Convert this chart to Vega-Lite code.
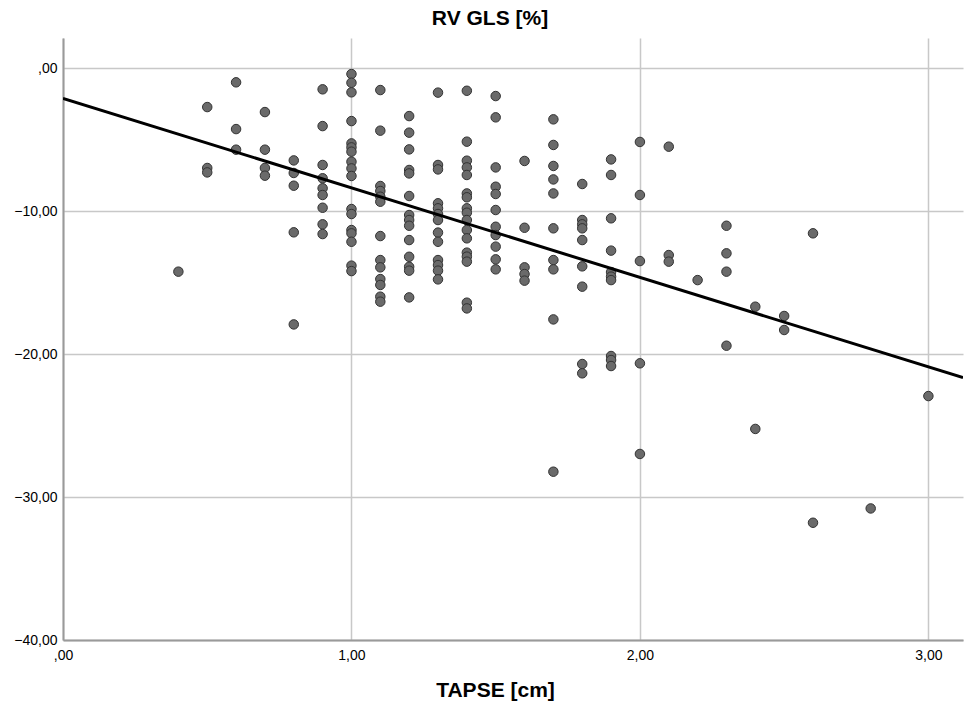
{
  "$schema": "https://vega.github.io/schema/vega-lite/v6.json",
  "width": 900,
  "height": 602,
  "autosize": "none",
  "padding": {"left": 63, "top": 38, "right": 2, "bottom": 75},
  "background": "white",
  "title": {"text": "RV GLS [%]", "font": "Liberation Sans", "fontSize": 21, "fontWeight": "bold", "color": "black", "anchor": "middle", "dx": -23, "offset": 9},
  "config": {
    "view": {"stroke": null},
    "axis": {
      "grid": true, "gridColor": "#c8c8c8", "gridWidth": 1.5,
      "domainColor": "#9a9a9a", "domainWidth": 2,
      "ticks": false,
      "labelFlush": false,
      "labelFont": "Liberation Sans", "labelFontSize": 14, "labelColor": "black",
      "titleFont": "Liberation Sans", "titleFontSize": 21, "titleFontWeight": "bold", "titleColor": "black"
    }
  },
  "datasets": {
    "points": [
      {"tapse":0.4,"gls":-14.24},
      {"tapse":0.5,"gls":-2.73},{"tapse":0.5,"gls":-6.99},{"tapse":0.5,"gls":-7.3},
      {"tapse":0.6,"gls":-1.0},{"tapse":0.6,"gls":-4.27},{"tapse":0.6,"gls":-5.71},
      {"tapse":0.7,"gls":-3.08},{"tapse":0.7,"gls":-5.71},{"tapse":0.7,"gls":-6.99},{"tapse":0.7,"gls":-7.53},
      {"tapse":0.8,"gls":-6.46},{"tapse":0.8,"gls":-7.34},{"tapse":0.8,"gls":-8.23},{"tapse":0.8,"gls":-11.49},{"tapse":0.8,"gls":-17.93},
      {"tapse":0.9,"gls":-1.49},{"tapse":0.9,"gls":-4.06},{"tapse":0.9,"gls":-6.78},{"tapse":0.9,"gls":-7.71},{"tapse":0.9,"gls":-8.41},{"tapse":0.9,"gls":-8.88},{"tapse":0.9,"gls":-9.77},{"tapse":0.9,"gls":-10.93},{"tapse":0.9,"gls":-11.61},
      {"tapse":1.0,"gls":-0.42},{"tapse":1.0,"gls":-1.03},{"tapse":1.0,"gls":-1.7},{"tapse":1.0,"gls":-3.71},{"tapse":1.0,"gls":-5.27},{"tapse":1.0,"gls":-5.55},{"tapse":1.0,"gls":-5.85},{"tapse":1.0,"gls":-6.55},{"tapse":1.0,"gls":-7.02},{"tapse":1.0,"gls":-7.55},{"tapse":1.0,"gls":-9.86},{"tapse":1.0,"gls":-10.21},{"tapse":1.0,"gls":-11.33},{"tapse":1.0,"gls":-11.56},{"tapse":1.0,"gls":-12.15},{"tapse":1.0,"gls":-13.82},{"tapse":1.0,"gls":-14.2},
      {"tapse":1.1,"gls":-1.54},{"tapse":1.1,"gls":-4.38},{"tapse":1.1,"gls":-8.25},{"tapse":1.1,"gls":-8.6},{"tapse":1.1,"gls":-9.0},{"tapse":1.1,"gls":-9.35},{"tapse":1.1,"gls":-11.75},{"tapse":1.1,"gls":-13.43},{"tapse":1.1,"gls":-13.94},{"tapse":1.1,"gls":-14.76},{"tapse":1.1,"gls":-15.17},{"tapse":1.1,"gls":-15.99},{"tapse":1.1,"gls":-16.34},
      {"tapse":1.2,"gls":-3.36},{"tapse":1.2,"gls":-4.52},{"tapse":1.2,"gls":-5.69},{"tapse":1.2,"gls":-7.13},{"tapse":1.2,"gls":-7.37},{"tapse":1.2,"gls":-8.95},{"tapse":1.2,"gls":-10.28},{"tapse":1.2,"gls":-10.63},{"tapse":1.2,"gls":-11.03},{"tapse":1.2,"gls":-12.03},{"tapse":1.2,"gls":-13.2},{"tapse":1.2,"gls":-13.9},{"tapse":1.2,"gls":-14.17},{"tapse":1.2,"gls":-16.04},
      {"tapse":1.3,"gls":-1.72},{"tapse":1.3,"gls":-6.78},{"tapse":1.3,"gls":-7.09},{"tapse":1.3,"gls":-9.46},{"tapse":1.3,"gls":-9.81},{"tapse":1.3,"gls":-10.21},{"tapse":1.3,"gls":-10.63},{"tapse":1.3,"gls":-11.51},{"tapse":1.3,"gls":-12.15},{"tapse":1.3,"gls":-13.43},{"tapse":1.3,"gls":-13.78},{"tapse":1.3,"gls":-14.17},{"tapse":1.3,"gls":-14.78},
      {"tapse":1.4,"gls":-1.59},{"tapse":1.4,"gls":-5.15},{"tapse":1.4,"gls":-6.48},{"tapse":1.4,"gls":-6.95},{"tapse":1.4,"gls":-7.48},{"tapse":1.4,"gls":-8.77},{"tapse":1.4,"gls":-9.04},{"tapse":1.4,"gls":-9.81},{"tapse":1.4,"gls":-10.12},{"tapse":1.4,"gls":-10.63},{"tapse":1.4,"gls":-11.33},{"tapse":1.4,"gls":-11.91},{"tapse":1.4,"gls":-12.91},{"tapse":1.4,"gls":-13.19},{"tapse":1.4,"gls":-13.54},{"tapse":1.4,"gls":-16.41},{"tapse":1.4,"gls":-16.81},
      {"tapse":1.5,"gls":-1.96},{"tapse":1.5,"gls":-3.45},{"tapse":1.5,"gls":-6.95},{"tapse":1.5,"gls":-8.3},{"tapse":1.5,"gls":-8.81},{"tapse":1.5,"gls":-9.93},{"tapse":1.5,"gls":-11.1},{"tapse":1.5,"gls":-11.68},{"tapse":1.5,"gls":-12.49},{"tapse":1.5,"gls":-13.38},{"tapse":1.5,"gls":-14.08},
      {"tapse":1.6,"gls":-6.5},{"tapse":1.6,"gls":-11.17},{"tapse":1.6,"gls":-13.94},{"tapse":1.6,"gls":-14.41},{"tapse":1.6,"gls":-14.87},
      {"tapse":1.7,"gls":-3.59},{"tapse":1.7,"gls":-5.38},{"tapse":1.7,"gls":-6.85},{"tapse":1.7,"gls":-7.79},{"tapse":1.7,"gls":-8.77},{"tapse":1.7,"gls":-11.21},{"tapse":1.7,"gls":-13.43},{"tapse":1.7,"gls":-14.08},{"tapse":1.7,"gls":-17.58},{"tapse":1.7,"gls":-28.23},
      {"tapse":1.8,"gls":-8.11},{"tapse":1.8,"gls":-10.63},{"tapse":1.8,"gls":-10.93},{"tapse":1.8,"gls":-11.21},{"tapse":1.8,"gls":-12.03},{"tapse":1.8,"gls":-13.87},{"tapse":1.8,"gls":-15.29},{"tapse":1.8,"gls":-20.7},{"tapse":1.8,"gls":-21.35},
      {"tapse":1.9,"gls":-6.39},{"tapse":1.9,"gls":-7.48},{"tapse":1.9,"gls":-10.51},{"tapse":1.9,"gls":-12.77},{"tapse":1.9,"gls":-14.27},{"tapse":1.9,"gls":-14.59},{"tapse":1.9,"gls":-14.83},{"tapse":1.9,"gls":-20.14},{"tapse":1.9,"gls":-20.42},{"tapse":1.9,"gls":-20.84},
      {"tapse":2.0,"gls":-5.17},{"tapse":2.0,"gls":-8.88},{"tapse":2.0,"gls":-13.5},{"tapse":2.0,"gls":-20.65},{"tapse":2.0,"gls":-26.99},
      {"tapse":2.1,"gls":-5.5},{"tapse":2.1,"gls":-13.08},{"tapse":2.1,"gls":-13.54},
      {"tapse":2.2,"gls":-14.83},
      {"tapse":2.3,"gls":-11.03},{"tapse":2.3,"gls":-12.96},{"tapse":2.3,"gls":-14.24},{"tapse":2.3,"gls":-19.42},
      {"tapse":2.4,"gls":-16.69},{"tapse":2.4,"gls":-25.24},
      {"tapse":2.5,"gls":-17.34},{"tapse":2.5,"gls":-18.32},
      {"tapse":2.6,"gls":-11.56},{"tapse":2.6,"gls":-31.8},
      {"tapse":2.8,"gls":-30.8},
      {"tapse":3.0,"gls":-22.94}
    ],
    "fit": [
      {"tapse":0,"gls":-2.12},
      {"tapse":3.12,"gls":-21.65}
    ]
  },
  "layer": [
    {
      "data": {"name": "points"},
      "mark": {"type": "point", "filled": true, "fill": "#6a6a6a", "stroke": "#333333", "strokeWidth": 1, "size": 90, "opacity": 1},
      "encoding": {
        "x": {"field": "tapse", "type": "quantitative",
              "scale": {"domain": [0, 3.12], "nice": false, "zero": false},
              "axis": {"values": [0, 1, 2, 3], "labelExpr": "datum.value == 0 ? ',00' : replace(format(datum.value, '.2f'), '.', ',')", "labelPadding": 8, "title": "TAPSE [cm]", "titleX": 432, "titleY": 50, "titleAlign": "center", "titleBaseline": "middle"}},
        "y": {"field": "gls", "type": "quantitative",
              "scale": {"domain": [-40, 2.1], "nice": false, "zero": false},
              "axis": {"values": [0, -10, -20, -30, -40], "labelExpr": "datum.value == 0 ? ',00' : replace(format(datum.value, '.2f'), '.', ',')", "labelPadding": 6, "title": null}}
      }
    },
    {
      "data": {"name": "fit"},
      "mark": {"type": "line", "color": "black", "strokeWidth": 3, "clip": true},
      "encoding": {
        "x": {"field": "tapse", "type": "quantitative"},
        "y": {"field": "gls", "type": "quantitative"}
      }
    }
  ]
}
